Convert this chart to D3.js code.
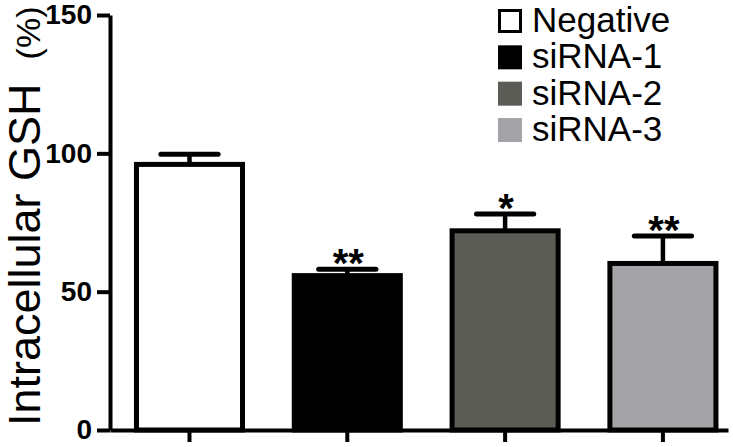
<!DOCTYPE html>
<html>
<head>
<meta charset="utf-8">
<script src="https://cdn.jsdelivr.net/npm/d3@7"></script>
<style>
  html, body { margin: 0; padding: 0; background: #fff; }
  svg { display: block; }
  text { font-family: "Liberation Sans", Arial, Helvetica, sans-serif; }
</style>
</head>
<body>
<svg id="chart" width="733" height="447"></svg>
<script>
// ---- data ----
const categories = ["Negative", "siRNA-1", "siRNA-2", "siRNA-3"];
const means = [96.0, 55.8, 72.0, 60.2];
const errors = [3.7, 2.3, 6.1, 9.9];
const significance = ["", "**", "*", "**"];
const fills = ["#ffffff", "#000000", "#5b5c56", "#a4a3a8"];
const yTicks = [0, 50, 100, 150];
const yLabel = "Intracellular GSH";
const yUnit = "(%)";

const svg = d3.select("#chart");

const x = d3.scaleBand()
  .domain(categories)
  .range([110, 728])
  .paddingInner(0.328)
  .paddingOuter(0.122)
  .align(0.687);

const y = d3.scaleLinear().domain([0, 150]).range([430, 15]);

// bars
const g = svg.append("g");
g.selectAll("rect.bar")
  .data(categories)
  .join("rect")
  .attr("class", "bar")
  .attr("x", d => x(d))
  .attr("width", x.bandwidth())
  .attr("y", (d, i) => y(means[i]))
  .attr("height", (d, i) => y(0) - y(means[i]))
  .attr("fill", (d, i) => fills[i])
  .attr("stroke", "#000")
  .attr("stroke-width", 5);

// error bars
const capW = x.bandwidth() * 0.54;
categories.forEach((c, i) => {
  const cx = x(c) + x.bandwidth() / 2;
  const top = y(means[i] + errors[i]);
  g.append("line")
    .attr("x1", cx).attr("x2", cx)
    .attr("y1", y(means[i])).attr("y2", top)
    .attr("stroke", "#000").attr("stroke-width", 4.5);
  g.append("line")
    .attr("x1", cx - capW / 2).attr("x2", cx + capW / 2)
    .attr("y1", top).attr("y2", top)
    .attr("stroke", "#000").attr("stroke-width", 5)
    .attr("stroke-linecap", "round");
  if (significance[i]) {
    g.append("text")
      .attr("x", cx + 1)
      .attr("y", top + 8)
      .attr("text-anchor", "middle")
      .attr("font-size", 40)
      .attr("font-weight", "bold")
      .attr("fill", "#000")
      .text(significance[i]);
  }
});

// y axis
const yAxis = svg.append("g")
  .attr("transform", "translate(110,0)")
  .call(d3.axisLeft(y).tickValues(yTicks).tickSize(13).tickSizeOuter(0).tickPadding(5));
yAxis.selectAll("path, line").attr("stroke", "#000").attr("stroke-width", 4);
yAxis.selectAll("text")
  .attr("font-size", 28)
  .attr("font-weight", "bold")
  .attr("fill", "#000")
  .attr("font-family", "Liberation Sans, Arial, sans-serif");

// x axis
const xAxis = svg.append("g")
  .attr("transform", "translate(0,430)")
  .call(d3.axisBottom(x).tickSize(12).tickSizeOuter(0).tickFormat(""));
xAxis.selectAll("path, line").attr("stroke", "#000").attr("stroke-width", 4);

// y label
const lab = svg.append("text")
  .attr("transform", "translate(40,426) rotate(-90)")
  .attr("font-size", 45)
  .attr("fill", "#000");
lab.append("tspan").text(yLabel);
lab.append("tspan")
  .attr("dx", 24)
  .attr("font-size", 34)
  .text(yUnit);

// legend
const legend = svg.append("g");
const legY = d3.scalePoint().domain(categories).range([32, 141]);
categories.forEach((c, i) => {
  const by = legY(c);
  legend.append("rect")
    .attr("x", 499.5).attr("y", by - 21.5)
    .attr("width", 21).attr("height", 21)
    .attr("fill", fills[i])
    .attr("stroke", i === 0 ? "#000" : fills[i])
    .attr("stroke-width", 3);
  legend.append("text")
    .attr("x", 532).attr("y", by)
    .attr("font-size", 35)
    .attr("fill", "#000")
    .text(c);
});
</script>
</body>
</html>
